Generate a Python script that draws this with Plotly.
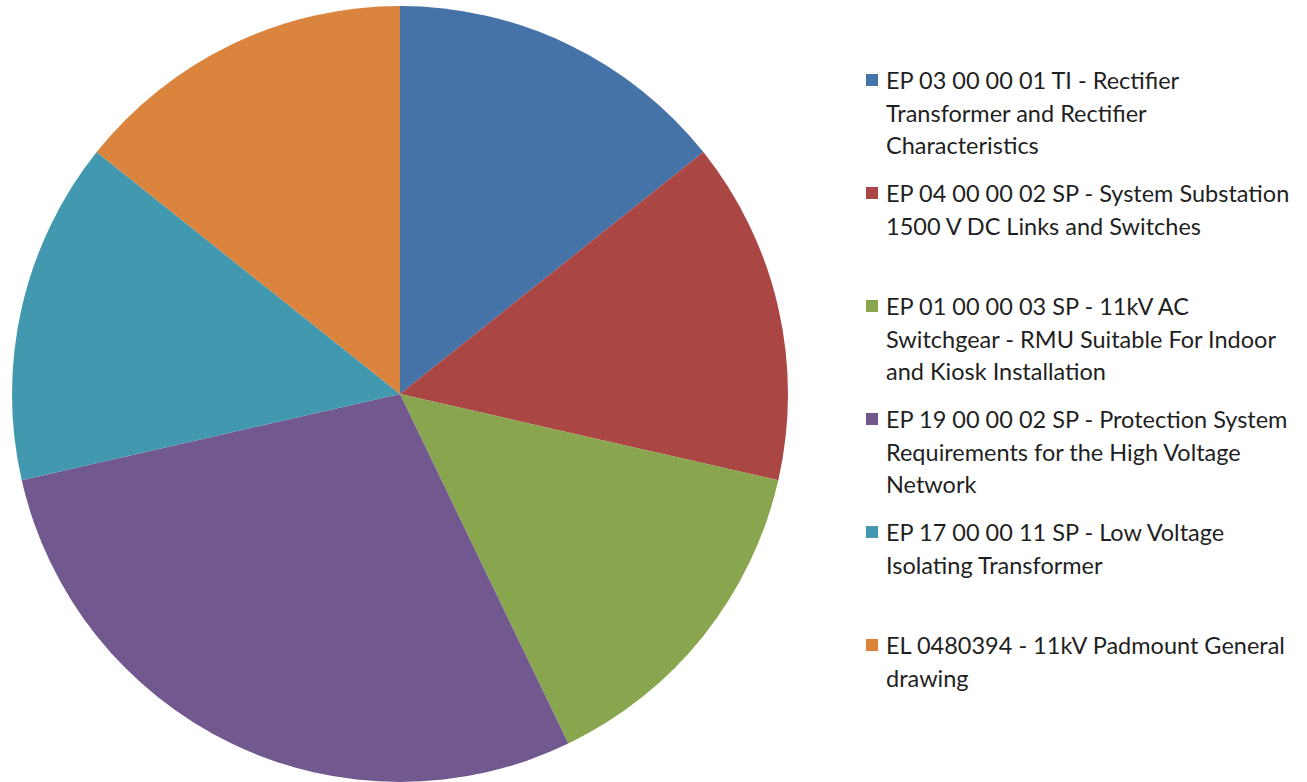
import plotly.graph_objects as go

# Document references and their counts
labels = [
    "EP 03 00 00 01 TI - Rectifier<br>Transformer and Rectifier<br>Characteristics",
    "EP 04 00 00 02 SP - System Substation<br>1500 V DC Links and Switches",
    "EP 01 00 00 03 SP - 11kV AC<br>Switchgear - RMU Suitable For Indoor<br>and Kiosk Installation",
    "EP 19 00 00 02 SP - Protection System<br>Requirements for the High Voltage<br>Network",
    "EP 17 00 00 11 SP - Low Voltage<br>Isolating Transformer",
    "EL 0480394 - 11kV Padmount General<br>drawing",
]
values = [1, 1, 1, 2, 1, 1]
colors = ["#4572A7", "#AA4643", "#89A54E", "#71588F", "#4198AF", "#DB843D"]

W, H = 1307, 782

fig = go.Figure(go.Pie(
    labels=[l.replace("<br>", " ") for l in labels],
    values=values,
    marker=dict(colors=colors, line=dict(width=0)),
    sort=False,
    direction="clockwise",
    rotation=0,
    textinfo="none",
    showlegend=False,
    domain=dict(x=[12 / W, 788 / W], y=[0.0, 776 / H]),
))

# Hand-built legend: a colour square and wrapped text per entry
font = dict(family="Lato, 'Open Sans', sans-serif", size=23.5, color="#1f1f1f")
entry_top = 80
entry_step = 113
line_step = 32.7
annotations = []
shapes = []
for i, (lab, col) in enumerate(zip(labels, colors)):
    y0 = entry_top + i * entry_step
    shapes.append(dict(
        type="rect", xref="paper", yref="paper",
        x0=866 / W, x1=878 / W,
        y0=1 - (y0 - 6) / H, y1=1 - (y0 + 6) / H,
        fillcolor=col, line=dict(width=0),
    ))
    for j, line in enumerate(lab.split("<br>")):
        yc = y0 + j * line_step
        annotations.append(dict(
            text=line, xref="paper", yref="paper",
            x=884 / W, y=1 - yc / H, xanchor="left", yanchor="middle",
            showarrow=False, font=font,
        ))

fig.update_layout(
    width=W, height=H,
    margin=dict(l=0, r=0, t=0, b=0),
    paper_bgcolor="white",
    plot_bgcolor="white",
    annotations=annotations,
    shapes=shapes,
)

fig.write_html("out.html")
